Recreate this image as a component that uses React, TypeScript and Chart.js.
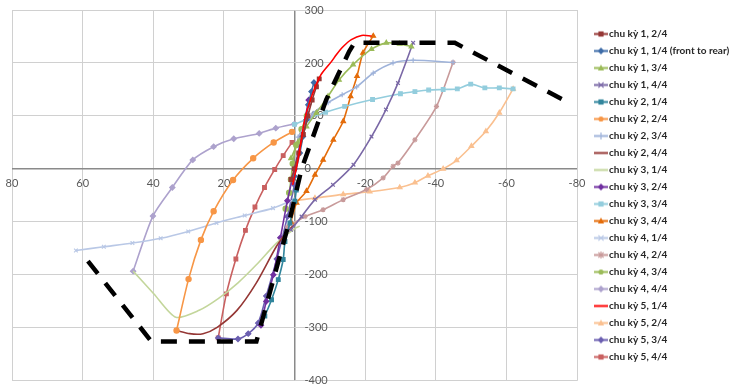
import React, { useEffect, useRef } from 'react';
import { Chart, registerables } from 'chart.js';

Chart.register(...registerables);

type P = [number, number];

// axis ranges / tick steps
const X_MIN = -80;
const X_MAX = 80;
const X_STEP = 20;
const Y_MIN = -400;
const Y_MAX = 300;
const Y_STEP = 100;

const seriesNames = [
  'chu kỳ 1, 2/4',
  'chu kỳ 1, 1/4 (front to rear)',
  'chu kỳ 1, 3/4',
  'chu kỳ 1, 4/4',
  'chu kỳ 2, 1/4',
  'chu kỳ 2, 2/4',
  'chu kỳ 2, 3/4',
  'chu kỳ 2, 4/4',
  'chu kỳ 3, 1/4',
  'chu kỳ 3, 2/4',
  'chu kỳ 3, 3/4',
  'chu kỳ 3, 4/4',
  'chu kỳ 4, 1/4',
  'chu kỳ 4, 2/4',
  'chu kỳ 4, 3/4',
  'chu kỳ 4, 4/4',
  'chu kỳ 5, 1/4',
  'chu kỳ 5, 2/4',
  'chu kỳ 5, 3/4',
  'chu kỳ 5, 4/4',
];

// series values [x, y]
const c1q2: P[] = [[1, -20], [0, 0], [-1.2, 30], [-2.5, 65], [-3.8, 100], [-5, 130], [-6.2, 155], [-7, 170]];
const c1q1: P[] = [[0, -14], [-1.5, 30], [-2.4, 61], [-3.4, 93], [-3.9, 121], [-4.8, 146], [-5.5, 163]];
const c1q3: P[] = [[1, 20], [-1, 50], [-3.4, 80], [-6.2, 106], [-9.5, 137], [-12.6, 168], [-16.6, 197], [-21.8, 226], [-26, 238], [-29.8, 236], [-33.1, 231]];
const c1q4: P[] = [[1, -115], [-2, -90], [-5.8, -58], [-10.9, -30], [-16.7, 8], [-21.8, 61], [-25.9, 112], [-29.3, 162], [-33.6, 238]];
const c2q1: P[] = [[-0.5, -40], [-0.1, -61], [1.3, -102], [2.7, -137], [3.2, -171], [4.6, -209], [6.5, -247], [8.4, -278]];
const c2q2: P[] = [[0.7, 70], [5.9, 50], [11.7, 20], [17.4, -21], [22.9, -80], [26.5, -134], [30, -208], [33.4, -305]];
const c2q3: P[] = [[-1, 60], [-5.3, 105], [-9.5, 125], [-13.5, 140], [-17.6, 155], [-22.3, 181], [-27.9, 200], [-33.6, 205], [-44.9, 201]];
const c2q4: P[] = [[33.4, -305], [29.7, -311], [25.9, -311], [21.9, -299], [16.3, -267], [10.8, -215], [5.1, -146], [2, -118], [0, -105]];
const c3q1: P[] = [[45.7, -193], [39.8, -236], [33.6, -280], [27, -267], [21.6, -245], [16, -215], [10.8, -181], [5.1, -140], [0, -113], [-1.5, -108]];
const c3q2: P[] = [[-4, 130], [-2, 60], [0, 0], [2, -60], [4, -130], [6, -200], [8, -250], [9.5, -295]];
const c3q3: P[] = [[0, 84], [-4, 95], [-8.8, 107], [-14.2, 118], [-22.1, 131], [-30, 142], [-34.1, 146], [-38, 149], [-42.1, 150], [-46.1, 151], [-49.9, 160], [-53.9, 153], [-58, 153], [-61.9, 151]];
const c3q4: P[] = [[1, -100], [-0.6, -64], [-3.4, -42], [-5.8, -11], [-8.1, 17], [-11, 55], [-13.8, 90], [-15.9, 137], [-17.7, 175], [-19.4, 219], [-22.3, 251]];
const c4q1: P[] = [[0, -58], [6.1, -74], [14.1, -88], [22.1, -102], [30.1, -118], [37.9, -131], [45.9, -140], [54, -147], [61.9, -154]];
const c4q2: P[] = [[2, -110], [-3, -90], [-8.1, -77], [-13.8, -58], [-20.4, -39], [-25.1, -17], [-27.9, 5], [-29.3, 11], [-34.1, 55], [-40.2, 118], [-44.9, 201]];
const c4q3: P[] = [[-3.5, 100], [-2, 75], [-0.5, 45], [0.5, 10], [1, -20], [1.5, -45], [2.5, -75]];
const c4q4: P[] = [[0, 85], [5.3, 77], [10, 67], [17.2, 57], [22.9, 42], [28.8, 17], [34.6, -35], [40.1, -89], [45.7, -193]];
const c5q1: P[] = [[0.5, -30], [-1, 17], [-2.9, 93], [-5, 140], [-7.5, 178], [-10.5, 203], [-11.9, 216], [-13.8, 231], [-16.1, 244], [-19, 252], [-21.8, 251]];
const c5q2: P[] = [[0, -60], [-5.8, -55], [-13.8, -48], [-21.3, -43], [-29.8, -35], [-34.1, -26], [-37.8, -13], [-42.1, 0], [-45.9, 16], [-50.1, 43], [-54.2, 71], [-58, 106], [-61.9, 151]];
const c5q3: P[] = [[21.6, -319], [16, -321], [13.1, -311], [10.3, -291], [8, -240], [5, -170], [2, -90], [0, -30]];
const c5q4: P[] = [[0.7, 50], [3.2, 25], [5.6, -1], [8.5, -35], [11.2, -72], [13.9, -116], [16.6, -170], [19.3, -236], [21.6, -319]];
const envelope: P[] = [[58.5, -174], [40.5, -326], [10.8, -326], [1.5, -100], [-2, 0], [-9, 131], [-15.5, 222], [-17, 238], [-45.4, 238], [-78, 124]];

const seriesData: P[][] = [
  c1q2, c1q1, c1q3, c1q4, c2q1, c2q2, c2q3, c2q4, c3q1, c3q2,
  c3q3, c3q4, c4q1, c4q2, c4q3, c4q4, c5q1, c5q2, c5q3, c5q4,
];

// styles
const seriesColors = [
  '#953735', '#3E6CA8', '#9BBB59', '#7A68A6', '#31859C', '#F79646', '#9FB3DA', '#953735', '#C3D69B', '#7030A0',
  '#93CDDD', '#E46C0A', '#B9C8E6', '#C89A9A', '#9BBB59', '#ADA2CD', '#FF0000', '#FAC090', '#6B5FB0', '#C96060',
];
const seriesMarkers: (string | false)[] = [
  'rect', 'rectRot', 'triangle', 'crossRot', 'rect', 'circle', 'cross', false, false, 'rectRot',
  'rect', 'triangle', 'crossRot', 'star', 'circle', 'rectRot', false, 'triangle', 'rectRot', 'rect',
];

const GRID = '#D0D0D0';
const AXIS = '#8A8A8A';
const FONT = 'Lato, "Open Sans", sans-serif';
const LEGEND_SIZE = 10;
const LEGEND_WEIGHT = 'bold';

// layout targets
const CANVAS_W = 732;
const CANVAS_H = 386;
const PLOT_LEFT = 12;
const PLOT_RIGHT = 577;
const LEGEND_ITEM_X = 598;
const LEGEND_PAD = 7;
const MARK_W = 6;

function drawMarker(g: CanvasRenderingContext2D, style: string, cx: number, cy: number, r: number, color: string) {
  g.fillStyle = color;
  g.strokeStyle = color;
  g.lineWidth = 1.2;
  g.beginPath();
  switch (style) {
    case 'rect':
      g.rect(cx - r, cy - r, 2 * r, 2 * r);
      g.fill();
      break;
    case 'rectRot':
      g.moveTo(cx, cy - r * 1.3);
      g.lineTo(cx + r * 1.3, cy);
      g.lineTo(cx, cy + r * 1.3);
      g.lineTo(cx - r * 1.3, cy);
      g.closePath();
      g.fill();
      break;
    case 'triangle':
      g.moveTo(cx, cy - r * 1.3);
      g.lineTo(cx + r * 1.2, cy + r);
      g.lineTo(cx - r * 1.2, cy + r);
      g.closePath();
      g.fill();
      break;
    case 'circle':
      g.arc(cx, cy, r, 0, Math.PI * 2);
      g.fill();
      break;
    case 'cross':
      g.moveTo(cx - r * 1.3, cy); g.lineTo(cx + r * 1.3, cy);
      g.moveTo(cx, cy - r * 1.3); g.lineTo(cx, cy + r * 1.3);
      g.stroke();
      break;
    case 'crossRot':
      g.moveTo(cx - r, cy - r); g.lineTo(cx + r, cy + r);
      g.moveTo(cx + r, cy - r); g.lineTo(cx - r, cy + r);
      g.stroke();
      break;
    case 'star':
      g.moveTo(cx - r * 1.3, cy); g.lineTo(cx + r * 1.3, cy);
      g.moveTo(cx, cy - r * 1.3); g.lineTo(cx, cy + r * 1.3);
      g.moveTo(cx - r, cy - r); g.lineTo(cx + r, cy + r);
      g.moveTo(cx + r, cy - r); g.lineTo(cx - r, cy + r);
      g.stroke();
      break;
  }
}

function makeIcon(color: string, style: string | false): HTMLCanvasElement {
  const c = document.createElement('canvas');
  c.width = 14;
  c.height = 9;
  const g = c.getContext('2d') as CanvasRenderingContext2D;
  g.strokeStyle = color;
  g.lineWidth = 2;
  g.beginPath();
  g.moveTo(0, 4.5);
  g.lineTo(14, 4.5);
  g.stroke();
  if (style) drawMarker(g, style, 7, 4.5, 2.6, color);
  return c;
}

const gridColor = (c: any) => (c.tick && c.tick.value === 0 ? AXIS : GRID);
const gridWidth = (c: any) => (c.tick && c.tick.value === 0 ? 1.5 : 1);

export default function App() {
  const ref = useRef<HTMLCanvasElement | null>(null);

  useEffect(() => {
    document.body.style.margin = '0';
    const canvas = ref.current;
    if (!canvas) return;
    const icons = seriesNames.map((_, i) => makeIcon(seriesColors[i], seriesMarkers[i]));
    const legendLeft = LEGEND_ITEM_X - LEGEND_PAD;

    const datasets: any[] = seriesNames.map((name, i) => ({
      label: name,
      data: seriesData[i].map(([x, y]) => ({ x, y })),
      borderColor: seriesColors[i],
      backgroundColor: seriesColors[i],
      borderWidth: 1.6,
      pointStyle: seriesMarkers[i] || 'circle',
      pointRadius: seriesMarkers[i] ? 2.6 : 0,
      pointBorderWidth: 1.2,
      tension: 0.25,
      showLine: true,
      yAxisID: 'y',
      order: i === 16 ? 0 : 1,
    }));
    datasets.push({
      label: 'envelope',
      data: envelope.map(([x, y]) => ({ x, y })),
      borderColor: '#000000',
      backgroundColor: '#000000',
      borderWidth: 4.5,
      borderDash: [16, 12],
      borderCapStyle: 'butt',
      pointRadius: 0,
      tension: 0,
      showLine: true,
      yAxisID: 'y',
      order: -1,
    });

    const chart = new Chart(canvas, {
      type: 'scatter',
      data: { datasets },
      options: {
        animation: false,
        responsive: false,
        layout: { padding: { top: 10, bottom: 5, left: PLOT_LEFT, right: 0 } },
        scales: {
          x: {
            type: 'linear',
            position: { y: 0 },
            reverse: true,
            min: X_MIN,
            max: X_MAX,
            afterFit: (s: any) => { s.height = 0; s.paddingLeft = 0; s.paddingRight = 0; },
            ticks: {
              stepSize: X_STEP,
              padding: 8,
              autoSkip: false,
              maxRotation: 0,
              color: '#595959',
              font: { size: 11, family: FONT },
            },
            grid: { drawTicks: false, color: gridColor, lineWidth: gridWidth },
            border: { display: false },
          },
          y: {
            type: 'linear',
            position: 'left',
            min: Y_MIN,
            max: Y_MAX,
            afterFit: (s: any) => { s.width = 0; s.paddingTop = 0; s.paddingBottom = 0; },
            ticks: {
              stepSize: Y_STEP,
              mirror: true,
              crossAlign: 'near',
              padding: (PLOT_LEFT + PLOT_RIGHT) / 2 + 10 - PLOT_LEFT,
              autoSkip: false,
              color: '#595959',
              font: { size: 11, family: FONT },
            },
            grid: { drawTicks: false, color: gridColor, lineWidth: gridWidth },
            border: { display: false },
          },
          yPad: {
            type: 'linear',
            axis: 'y',
            position: 'right',
            display: true,
            afterFit: (s: any) => {
              s.width = Math.max(0, legendLeft - PLOT_RIGHT);
              s.paddingTop = 0; s.paddingBottom = 0;
            },
            ticks: { display: false },
            grid: { display: false, drawTicks: false },
            border: { display: false },
          },
        },
        plugins: {
          tooltip: { enabled: false },
          legend: {
            position: 'right',
            align: 'center',
            maxWidth: CANVAS_W - legendLeft,
            labels: {
              usePointStyle: true,
              pointStyleWidth: MARK_W,
              padding: LEGEND_PAD,
              color: '#262626',
              font: { size: LEGEND_SIZE, family: FONT, weight: LEGEND_WEIGHT },
              filter: (item: any) => item.datasetIndex < seriesNames.length,
              sort: (a: any, b: any) => a.datasetIndex - b.datasetIndex,
              generateLabels: (ch: any) => {
                const items = (Chart.defaults.plugins.legend.labels as any).generateLabels(ch);
                return items.map((it: any) => ({ ...it, pointStyle: icons[it.datasetIndex] || it.pointStyle }));
              },
            },
          },
        },
      } as any,
    });
    return () => chart.destroy();
  }, []);

  return (
    <div style={{ width: CANVAS_W, height: CANVAS_H }}>
      <canvas ref={ref} width={CANVAS_W} height={CANVAS_H} style={{ display: 'block' }} />
    </div>
  );
}
